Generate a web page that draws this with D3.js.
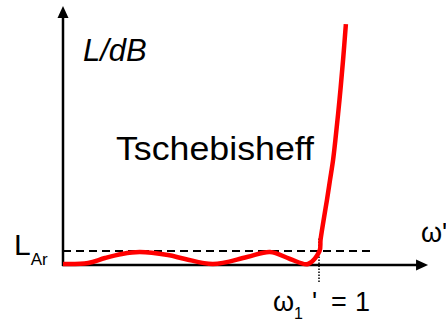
<!DOCTYPE html>
<html>
<head>
<meta charset="utf-8">
<script src="https://cdn.jsdelivr.net/npm/d3@7"></script>
<style>
  html, body { margin: 0; padding: 0; background: #fff; }
  svg { display: block; font-family: "Liberation Sans", Arial, sans-serif; }
</style>
</head>
<body>
<svg id="chart" width="446" height="322"></svg>
<script>
// Normalised frequency ω' and attenuation L (in units of the ripple L_Ar)
const omega = [0, 0.098, 0.164, 0.23, 0.30, 0.41, 0.477, 0.586, 0.719, 0.809, 0.887, 0.957,
               1.002, 1.006, 1.018, 1.031, 1.043, 1.055, 1.064, 1.080, 1.094, 1.105];
const attenuation = [0.07, 0.14, 0.5, 0.79, 0.93, 0.71, 0.43, 0.07, 0.57, 0.93, 0.43, 0.07,
                     1.0, 1.79, 3.21, 4.64, 6.07, 7.5, 8.93, 11.79, 14.64, 17.21];
const rippleLevel = 1;      // L_Ar
const cutoff = 1;           // ω1'
const axisMax = { omega: 1.426, L: 18.5 };

const svg = d3.select("#chart");

const x = d3.scaleLinear().domain([0, 1]).range([63, 319]);
const y = d3.scaleLinear().domain([0, 1]).range([265, 251]);

const points = omega.map((w, i) => ({ w, L: attenuation[i] }));

// Ripple reference level L_Ar
svg.append("line")
  .attr("x1", x(0)).attr("x2", x(1.205))
  .attr("y1", y(rippleLevel)).attr("y2", y(rippleLevel))
  .attr("stroke", "#000").attr("stroke-width", 2)
  .attr("stroke-dasharray", "8,5");

// Cut-off marker at ω1' = 1
svg.append("line")
  .attr("x1", x(cutoff)).attr("x2", x(cutoff))
  .attr("y1", y(1.9)).attr("y2", y(-1.3))
  .attr("stroke", "#000").attr("stroke-width", 1.5)
  .attr("stroke-dasharray", "1.5,1.5");

// Axes with arrow heads
svg.append("line")
  .attr("x1", x(0)).attr("x2", x(0))
  .attr("y1", y(0) + 1).attr("y2", y(axisMax.L) + 10)
  .attr("stroke", "#000").attr("stroke-width", 2.5);
svg.append("path")
  .attr("d", `M${x(0)},${y(axisMax.L)} L${x(0) - 5.5},${y(axisMax.L) + 12} L${x(0) + 5.5},${y(axisMax.L) + 12} Z`)
  .attr("fill", "#000");

svg.append("line")
  .attr("x1", x(0) - 1).attr("x2", x(axisMax.omega) - 10)
  .attr("y1", y(0)).attr("y2", y(0))
  .attr("stroke", "#000").attr("stroke-width", 2.5);
svg.append("path")
  .attr("d", `M${x(axisMax.omega)},${y(0)} L${x(axisMax.omega) - 12},${y(0) - 5.5} L${x(axisMax.omega) - 12},${y(0) + 5.5} Z`)
  .attr("fill", "#000");

// Chebyshev attenuation response
const line = d3.line()
  .x(d => x(d.w))
  .y(d => y(d.L))
  .curve(d3.curveCatmullRom.alpha(0.5));

svg.append("path")
  .datum(points)
  .attr("d", line)
  .attr("fill", "none")
  .attr("stroke", "#ff0000")
  .attr("stroke-width", 4.5)
  .attr("stroke-linejoin", "round");

// Labels
svg.append("text")
  .attr("x", 83).attr("y", 61)
  .attr("font-size", 31).attr("font-style", "italic")
  .text("L/dB");

svg.append("text")
  .attr("x", 116).attr("y", 160)
  .attr("font-size", 33)
  .attr("textLength", 198).attr("lengthAdjust", "spacingAndGlyphs")
  .text("Tschebisheff");

const lar = svg.append("text").attr("x", 14).attr("y", 255).attr("font-size", 30);
lar.append("tspan").text("L");
lar.append("tspan").attr("font-size", 17).attr("dy", 10).text("Ar");

svg.append("text")
  .attr("x", 421).attr("y", 242)
  .attr("font-size", 27)
  .text("ω'");

const wl = svg.append("text").attr("x", 273).attr("y", 311).attr("font-size", 27);
wl.append("tspan").text("ω");
wl.append("tspan").attr("font-size", 16).attr("dy", 8).text("1");
wl.append("tspan").attr("dy", -8).attr("x", 312).text("'");
wl.append("tspan").attr("x", 331).text("=");
wl.append("tspan").attr("x", 355).text("1");
</script>
</body>
</html>
